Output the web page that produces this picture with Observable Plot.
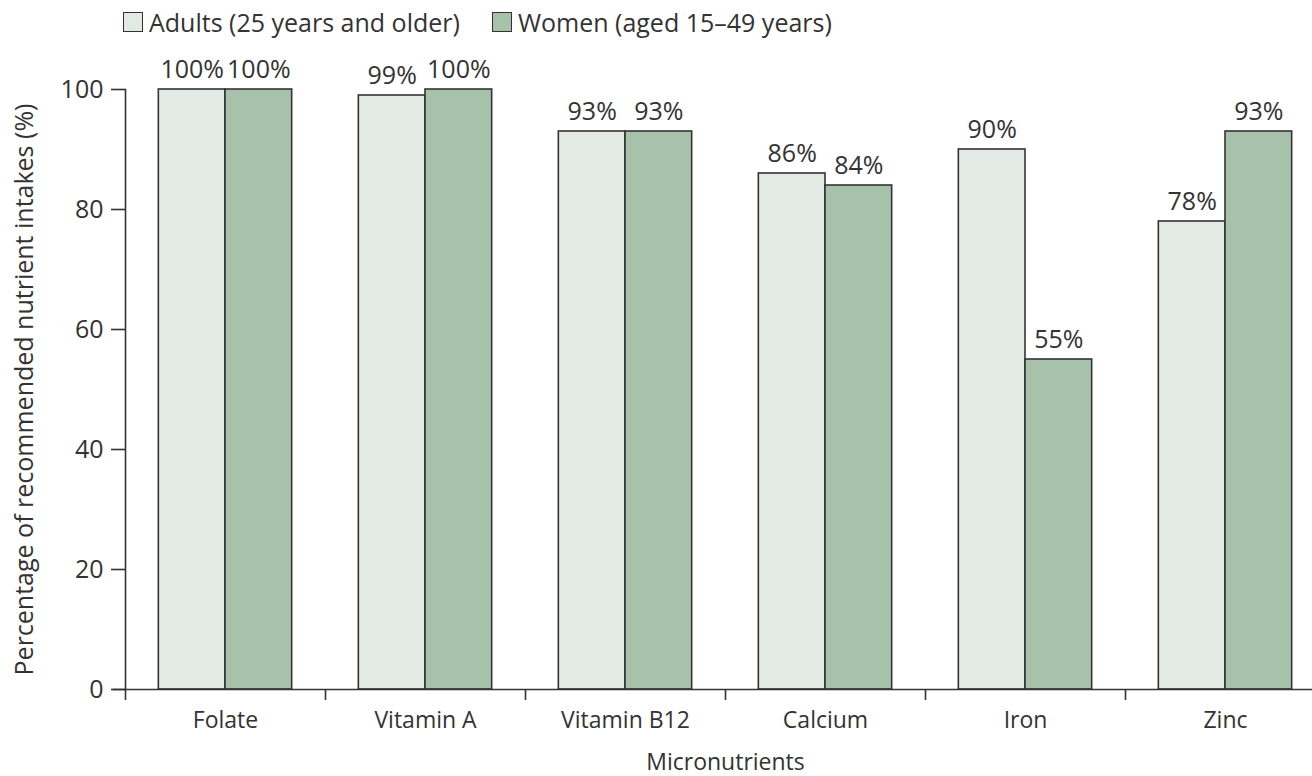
<!DOCTYPE html>
<html>
<head>
<meta charset="utf-8">
<script src="https://cdn.jsdelivr.net/npm/d3@7"></script>
<script src="https://cdn.jsdelivr.net/npm/@observablehq/plot@0.6"></script>
<style>
  html, body { margin: 0; padding: 0; background: #fff; overflow: hidden; width: 1312px; height: 776px; }
  body { font-family: "Open Sans", sans-serif; color: #333; }
  #legend { height: 44px; display: flex; align-items: center; font-size: 25px; white-space: nowrap; }
  .item { display: flex; align-items: center; }
  .sw { width: 20px; height: 20px; border: 1.6px solid #333; margin-right: 6px; box-sizing: border-box; }
  #chart { width: 1330px; }
  #chart svg { display: block; max-width: none !important; }
</style>
</head>
<body>
<div id="legend"></div>
<div id="chart"></div>
<script>
const nutrients = ["Folate", "Vitamin A", "Vitamin B12", "Calcium", "Iron", "Zinc"];
const adults = [100, 99, 93, 86, 90, 78];
const women = [100, 100, 93, 84, 55, 93];
const seriesNames = ["Adults (25 years and older)", "Women (aged 15–49 years)"];
const seriesColors = ["#e3e9e4", "#a7c1aa"];
const yTicks = [0, 20, 40, 60, 80, 100];
const yTitle = "Percentage of recommended nutrient intakes (%)";
const xTitle = "Micronutrients";

const adultRows = nutrients.map((n, i) => ({nutrient: n, value: adults[i]}));
const womenRows = nutrients.map((n, i) => ({nutrient: n, value: women[i]}));

// legend
const legend = document.getElementById("legend");
seriesNames.forEach((name, i) => {
  const it = document.createElement("div");
  it.className = "item";
  it.style.marginLeft = i === 0 ? "123px" : "32px";
  const sw = document.createElement("div");
  sw.className = "sw";
  sw.style.background = seriesColors[i];
  const tx = document.createElement("span");
  tx.textContent = name;
  it.appendChild(sw); it.appendChild(tx);
  legend.appendChild(it);
});

const band = 200;
const ink = "#333";
const chart = Plot.plot({
  width: 1330,
  height: 732,
  marginLeft: 125,
  marginRight: 5,
  marginTop: 45,
  marginBottom: 87,
  style: {fontFamily: "'Open Sans', sans-serif", color: ink, background: "#fff", overflow: "visible"},
  x: {domain: nutrients, padding: 0},
  y: {domain: [0, 100]},
  marks: [
    Plot.barY(adultRows, {x: "nutrient", y: "value", fill: seriesColors[0], stroke: ink, strokeWidth: 1.6,
      insetLeft: band / 6, insetRight: band / 2}),
    Plot.barY(womenRows, {x: "nutrient", y: "value", fill: seriesColors[1], stroke: ink, strokeWidth: 1.6,
      insetLeft: band / 2, insetRight: band / 6}),
    Plot.text(adultRows, {x: "nutrient", y: "value", text: d => d.value + "%", dx: -band / 6, dy: -12,
      lineAnchor: "bottom", fontSize: 25, fill: ink}),
    Plot.text(womenRows, {x: "nutrient", y: "value", text: d => d.value + "%", dx: band / 6, dy: -12,
      lineAnchor: "bottom", fontSize: 25, fill: ink}),
    Plot.ruleY([0], {stroke: ink, strokeWidth: 1.6, insetLeft: -12}),
    Plot.frame({anchor: "left", stroke: ink, strokeWidth: 1.6}),
    Plot.axisY(yTicks, {tickSize: 14, tickPadding: 8, fontSize: 25, stroke: ink, strokeWidth: 1.6,
      label: yTitle, labelAnchor: "center", labelArrow: "none", labelOffset: 110}),
    Plot.axisX({tickSize: 11, tickFormat: () => "", dx: -band / 2, stroke: ink, strokeWidth: 1.6, label: null}),
    Plot.axisX({tickSize: 0, tickPadding: 22, fontSize: 23, label: xTitle, labelAnchor: "center", labelOffset: 80})
  ]
});
document.getElementById("chart").appendChild(chart);
</script>
</body>
</html>
